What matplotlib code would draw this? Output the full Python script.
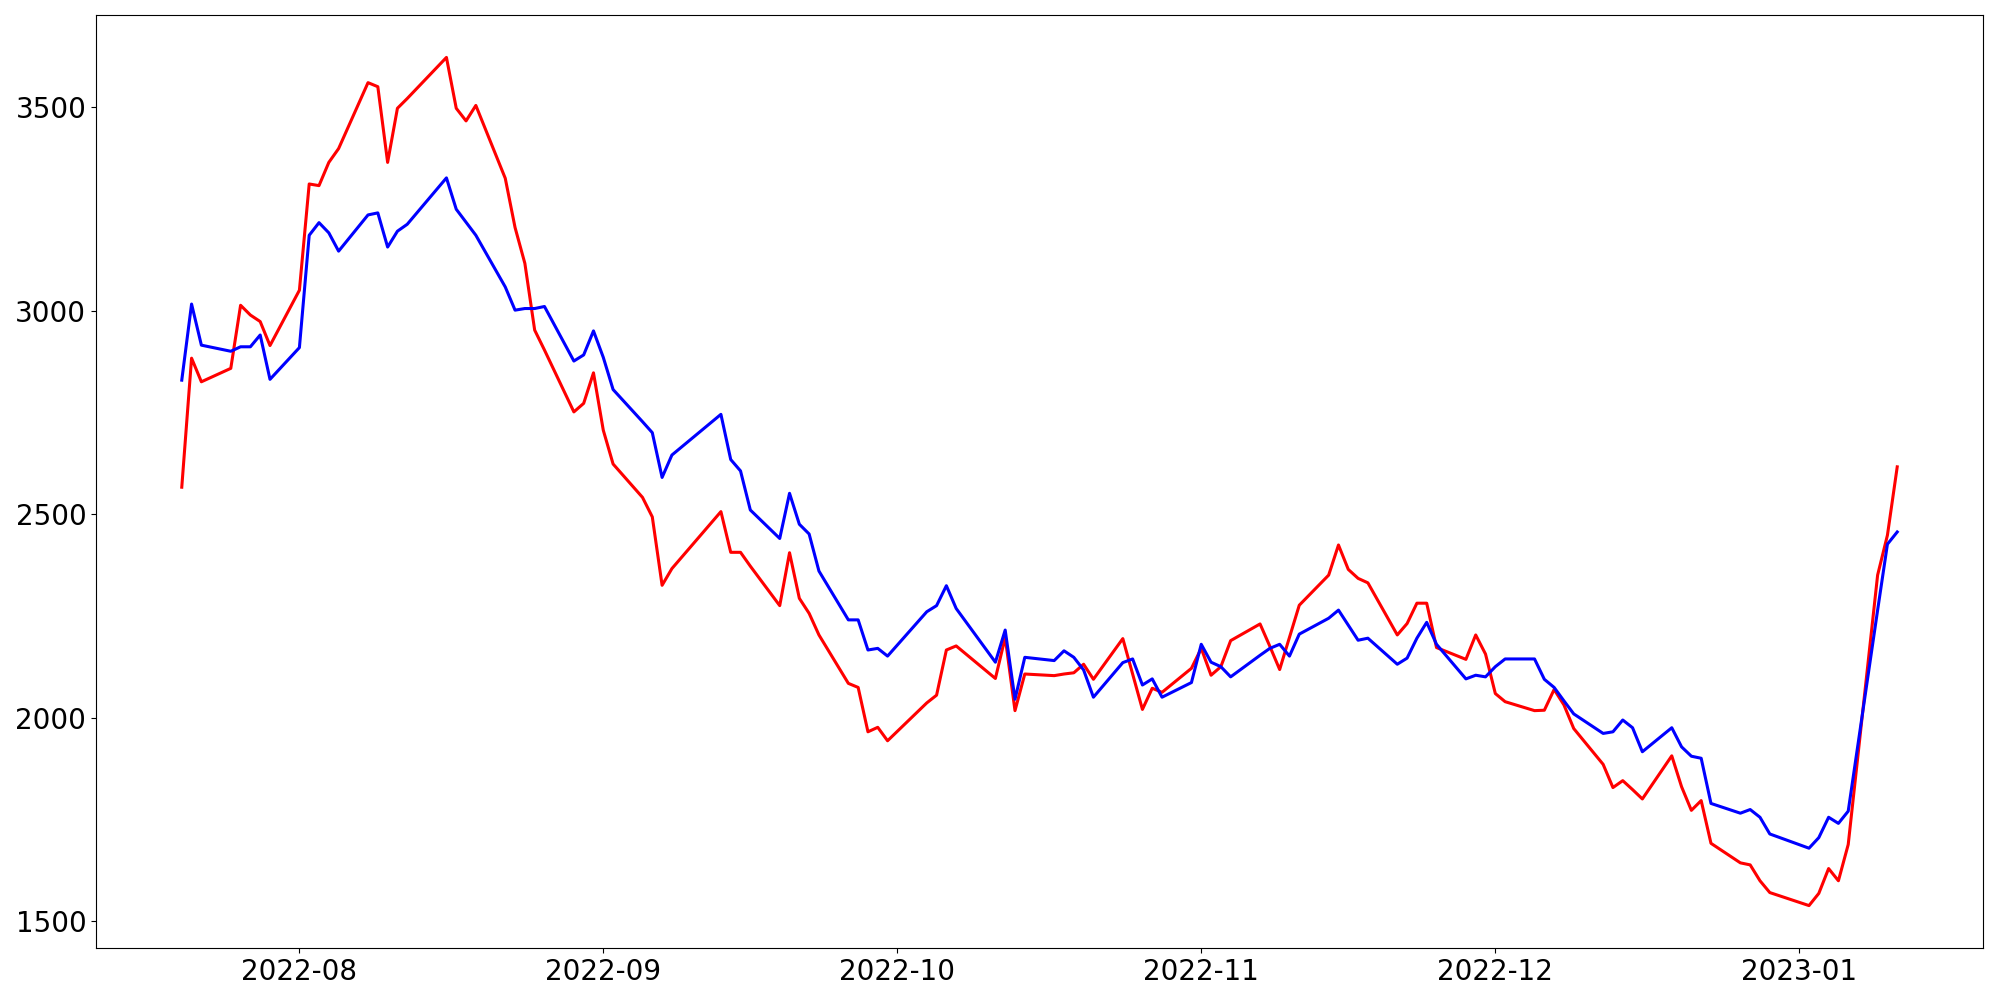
import matplotlib
matplotlib.use("Agg")
import matplotlib.pyplot as plt
import pandas as pd

# Trading days (Korean market calendar: weekends and holidays excluded)
holidays = ["2022-08-15", "2022-09-09", "2022-09-12", "2022-10-03",
            "2022-10-10", "2022-12-30"]
dates = pd.bdate_range("2022-07-20", "2023-01-11")
dates = dates[~dates.isin(pd.to_datetime(holidays))]

red_values = [
    2566, 2883, 2825, 2858, 3013, 2989, 2973, 2914,
    3050, 3311, 3307, 3364, 3398, 3560, 3550, 3364, 3497, 3521, 3622, 3497,
    3466, 3504, 3325, 3204, 3116, 2952, 2903, 2751, 2772, 2847,
    2706, 2623, 2541, 2493, 2325, 2366, 2506, 2406, 2406, 2372, 2275, 2405,
    2293, 2256, 2203, 2084, 2074, 1965, 1976, 1943,
    2036, 2055, 2166, 2176, 2096, 2197, 2017, 2107, 2103, 2107, 2110, 2131,
    2094, 2194, 2107, 2020, 2072, 2062, 2121,
    2170, 2104, 2125, 2189, 2230, 2175, 2118, 2197, 2276, 2350, 2424, 2364,
    2342, 2331, 2203, 2231, 2281, 2281, 2172, 2143, 2203, 2156,
    2059, 2039, 2017, 2018, 2069, 2031, 1973, 1885, 1828, 1845, 1823, 1800,
    1906, 1830, 1772, 1796, 1691, 1643, 1638, 1599, 1570,
    1538, 1568, 1629, 1599, 1688, 2350, 2448, 2616,
]

blue_values = [
    2829, 3016, 2915, 2900, 2911, 2911, 2940, 2831,
    2909, 3185, 3216, 3191, 3146, 3235, 3240, 3156, 3195, 3212, 3326, 3249,
    3217, 3185, 3058, 3001, 3005, 3005, 3010, 2876, 2891, 2950,
    2885, 2806, 2727, 2700, 2590, 2645, 2745, 2634, 2606, 2510, 2440, 2551,
    2475, 2451, 2360, 2240, 2240, 2166, 2170, 2151,
    2260, 2275, 2324, 2268, 2136, 2215, 2045, 2148, 2140, 2164, 2148, 2117,
    2050, 2135, 2144, 2080, 2095, 2050, 2086,
    2180, 2136, 2125, 2100, 2153, 2170, 2180, 2151, 2205, 2244, 2264, 2227,
    2190, 2195, 2131, 2146, 2195, 2234, 2180, 2095, 2104, 2100,
    2125, 2144, 2144, 2094, 2074, 2041, 2009, 1961, 1965, 1994, 1975, 1916,
    1975, 1928, 1905, 1900, 1789, 1765, 1774, 1755, 1714,
    1679, 1705, 1755, 1740, 1770, 2264, 2426, 2456,
]

fig, ax = plt.subplots(figsize=(20, 10), dpi=100)
ax.plot(dates, red_values, color="red", linewidth=2.2)
ax.plot(dates, blue_values, color="blue", linewidth=2.2)
ax.tick_params(axis="both", labelsize=20)
fig.subplots_adjust(left=0.048, right=0.9915, top=0.985, bottom=0.052)
fig.savefig("out.png", dpi=100)
